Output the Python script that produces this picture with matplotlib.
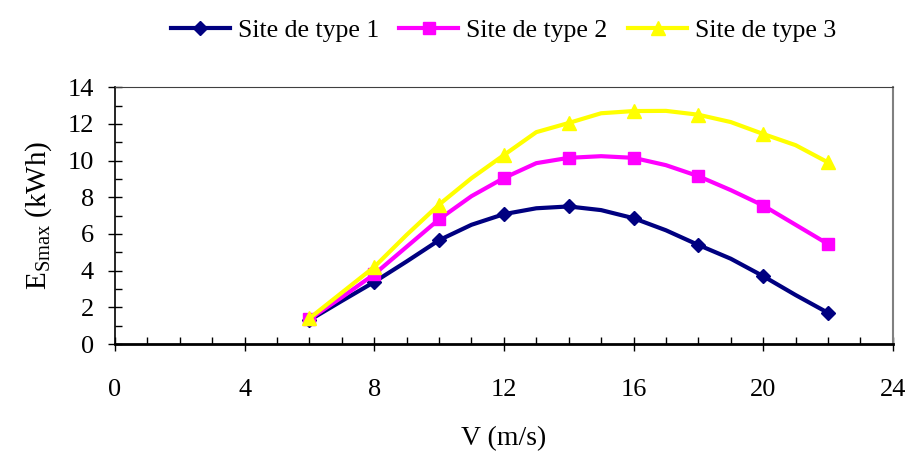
import matplotlib.pyplot as plt
from matplotlib.ticker import MultipleLocator

plt.rcParams['font.family'] = ['Liberation Serif', 'DejaVu Serif']
plt.rcParams['mathtext.fontset'] = 'custom'
plt.rcParams['mathtext.rm'] = 'Liberation Serif'

# wind speed (m/s), every 1 m/s; markers only on the even ones
v = [6, 7, 8, 9, 10, 11, 12, 13, 14, 15, 16, 17, 18, 19, 20, 21, 22]
site1 = [1.3, 2.35, 3.38, 4.5, 5.66, 6.5, 7.08, 7.4, 7.5, 7.3, 6.86, 6.2, 5.4, 4.65, 3.7, 2.67, 1.7]
site2 = [1.35, 2.55, 3.8, 5.3, 6.8, 8.06, 9.05, 9.86, 10.15, 10.24, 10.15, 9.75, 9.15, 8.39, 7.55, 6.5, 5.45]
site3 = [1.4, 2.8, 4.2, 5.95, 7.6, 9.04, 10.3, 11.55, 12.05, 12.58, 12.7, 12.71, 12.5, 12.1, 11.45, 10.84, 9.9]
labels = ['Site de type 1', 'Site de type 2', 'Site de type 3']

fig = plt.figure(figsize=(9.12, 4.59), dpi=100)
ax = fig.add_axes([0.126, 0.2505, 0.853, 0.5595])

ax.plot(v, site1, color='#000080', lw=3, marker='D', ms=7, markevery=2, label=labels[0])
ax.plot(v, site2, color='#FF00FF', lw=3, marker='s', ms=8, markevery=2, label=labels[1])
ax.plot(v, site3, color='#FFFF00', lw=3, marker='^', ms=10, markevery=2, label=labels[2])

ax.set_xlim(0, 24)
ax.set_ylim(0, 14)
ax.xaxis.set_major_locator(MultipleLocator(4))
ax.xaxis.set_minor_locator(MultipleLocator(1))
ax.yaxis.set_major_locator(MultipleLocator(2))
ax.yaxis.set_minor_locator(MultipleLocator(1))

ax.tick_params(axis='x', which='major', direction='inout', length=10, width=1,
               pad=20, labelsize=19)
ax.tick_params(axis='x', which='minor', direction='in', length=5, width=1)
ax.tick_params(axis='y', which='major', direction='inout', length=10, width=1,
               pad=10, labelsize=19)
ax.tick_params(axis='y', which='minor', direction='in', length=5, width=1)

ax.spines['left'].set_linewidth(1.2)
ax.spines['bottom'].set_linewidth(2)
ax.spines['top'].set_color('#404040')
ax.spines['right'].set_color('#808080')
ax.spines['right'].set_linewidth(1.5)

ax.set_xlabel('V (m/s)', fontsize=20, labelpad=18)
ax.set_ylabel(r'E$_{\mathregular{Smax}}$ (kWh)', fontsize=21, labelpad=10)

fig.legend(loc='upper center', bbox_to_anchor=(0.552, 1.01), ncol=3, frameon=False,
           fontsize=18.5, handlelength=2.3, columnspacing=0.8, handletextpad=0.3)

fig.savefig('out.png', dpi=100)
